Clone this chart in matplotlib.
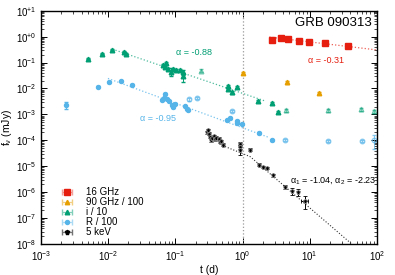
import numpy as np
import matplotlib
matplotlib.use('Agg')
import matplotlib.pyplot as plt
from matplotlib.ticker import LogLocator, NullFormatter

plt.rcParams['font.family'] = ['Liberation Sans', 'DejaVu Sans']
plt.rcParams['mathtext.default'] = 'regular'

# 16 GHz
red_t = [2.77, 3.69, 4.74, 6.84, 9.73, 16.8, 36.6]
red_f = [0.77, 0.89, 0.79, 0.70, 0.64, 0.55, 0.42]

# 90 GHz / 100
orange_t = [1.01, 4.63, 13.7]
orange_f = [0.040, 0.017, 0.0068]

# i / 10
green_t = [0.00506, 0.0080, 0.0115, 0.0172, 0.0182, 0.0653, 0.0725, 0.070, 0.0776, 0.0851,
           0.0931, 0.102, 0.117, 0.128, 0.131, 0.612, 0.60, 0.703, 0.817, 1.71, 2.71, 3.40]
green_f = [0.139, 0.216, 0.31, 0.265, 0.216, 0.084, 0.094, 0.070, 0.057, 0.045,
           0.057, 0.0515, 0.052, 0.042, 0.029, 0.0122, 0.0097, 0.0072, 0.0112, 0.00325, 0.00272, 0.00127]
green_err = [0.05, 0.05, 0.05, 0.05, 0.05, 0.08, 0.08, 0.08, 0.1, 0.35,
             0.1, 0.1, 0.1, 0.2, 0.4, 0.08, 0.1, 0.12, 0.08, 0.06, 0.06, 0.1]
green2_t = [0.24, 4.42, 18.8, 57.8, 91.0]
green2_f = [0.049, 0.00143, 0.00143, 0.0016, 0.00134]

# R / 100
blue_t = [0.00233, 0.00698, 0.0103, 0.0154, 0.0229, 0.070, 0.0625, 0.068, 0.0742, 0.0811, 0.0881,
          0.092, 0.0986, 0.139, 0.150, 0.155, 0.58, 0.649, 0.817, 0.84, 0.99, 1.75, 2.77]
blue_f = [0.00222, 0.0119, 0.0175, 0.0186, 0.0139, 0.00626, 0.00367, 0.0041, 0.00377, 0.00316, 0.00222,
          0.00191, 0.00258, 0.00203, 0.00166, 0.00152, 0.000588, 0.000733, 0.000562, 0.000451, 0.000438,
          0.000191, 0.0001]
blue_err = [0.3] + [0.06] * 22
blue2_t = [0.161, 0.212, 0.688, 4.32, 18.8, 59.2, 91.0]
blue2_f = [0.00377, 0.00439, 0.00134, 0.0001, 9.2e-5, 9.2e-5, 1.0e-4]
blue2_err = [0.1, 0.1, 0.1, 0.1, 0.1, 0.1, 0.55]

# 5 keV
black_t = [0.30, 0.309, 0.316, 0.327, 0.334, 0.35, 0.379, 0.386, 0.40, 0.445, 0.46, 0.48, 0.516,
           0.914, 0.914, 0.93, 1.29, 1.75, 2.03, 2.3, 2.86, 4.28, 5.38, 6.75, 8.49]
black_f = [2.0e-4, 2.42e-4, 1.81e-4, 1.34e-4, 1.0e-4, 1.25e-4, 1.47e-4, 1.1e-4, 1.25e-4, 1.16e-4,
           8.6e-5, 9.5e-5, 6.8e-5, 7.5e-5, 5.5e-5, 4.1e-5, 4.4e-5, 1.16e-5, 9.4e-6, 8.6e-6, 4.5e-6,
           1.6e-6, 1.12e-6, 1.03e-6, 4.6e-7]
black_err = [0.12] * 13 + [0.15, 0.15, 0.35, 0.12, 0.12, 0.12, 0.12, 0.12, 0.15, 0.3, 0.3, 0.5]
black_xerr = [0] * 24 + [0.6]

# power-law fits: (amplitude at t=1, index, t start, t end)
red_fit = (1.28, -0.31, 2.5, 100.0)
green_fit = (0.00649, -0.88, 0.0115, 2.2)
blue_fit = (0.000304, -0.95, 0.0099, 2.5)
black_fit = (4.2e-5, -1.04, -2.23, 1.3, 0.5, 42.0)  # amp of 2nd seg, a1, a2, t_break, start, end

c_red = '#e51e10'
c_orange = '#e69f00'
c_green = '#009e73'
c_blue = '#56b4e9'
c_black = 'black'

fig = plt.figure(figsize=(3.95, 2.75), dpi=100)
ax = fig.add_axes([0.104, 0.113, 0.85, 0.848])

# fits
def pl(fit):
    a, idx, t0, t1 = fit
    t = np.logspace(np.log10(t0), np.log10(t1), 100)
    return t, a * t ** idx

t, f = pl(red_fit)
ax.plot(t, f, ':', color=c_red, lw=0.9, alpha=0.7)
t, f = pl(green_fit)
ax.plot(t, f, ':', color=c_green, lw=0.9, alpha=0.7)
t, f = pl(blue_fit)
ax.plot(t, f, ':', color=c_blue, lw=0.9, alpha=0.8)
a2, i1, i2, tb, ts, te = black_fit
t = np.logspace(np.log10(ts), np.log10(te), 200)
fb = a2 * tb ** i2
f = np.where(t < tb, fb * (t / tb) ** i1, a2 * t ** i2)
ax.plot(t, f, ':', color='0.2', lw=0.8)

ax.axvline(1.0, color='0.6', ls=':', lw=0.9)

# data
ax.errorbar(red_t, red_f, yerr=0.04 * np.array(red_f), fmt='s', color=c_red, ms=4.0,
            elinewidth=0.7, capsize=1.5)
ax.errorbar(orange_t, orange_f, yerr=0.1 * np.array(orange_f), fmt='^', color=c_orange, ms=3.2,
            elinewidth=0.7, capsize=1.5)
ax.errorbar(green_t, green_f, yerr=np.array(green_err) * np.array(green_f), fmt='^', color=c_green,
            ms=3.3, elinewidth=0.7, capsize=1.5)
ax.errorbar(green2_t, green2_f, yerr=0.15 * np.array(green2_f), fmt='^', color=c_green, ms=3.3,
            mfc='none', alpha=0.55, elinewidth=0.7, capsize=1.5)
ax.errorbar(blue_t, blue_f, yerr=np.array(blue_err) * np.array(blue_f), fmt='o', color=c_blue,
            ms=2.9, elinewidth=0.7, capsize=1.5)
ax.errorbar(blue2_t, blue2_f, yerr=np.array(blue2_err) * np.array(blue2_f), fmt='o', color=c_blue,
            ms=3.2, mfc='none', alpha=0.7, elinewidth=0.7, capsize=1.5)
ax.errorbar(black_t, black_f, yerr=np.array(black_err) * np.array(black_f),
            xerr=np.array(black_xerr) * np.array(black_t) * 0.2, fmt='p', color=c_black, ms=3.6,
            mec='0.55', mew=0.6, elinewidth=0.7, capsize=1.5)

# legend proxies
handles = []
for col, lcol, mk, ms in [(c_red, '#f4a09a', 's', 4.0), (c_orange, '#f2cf80', '^', 3.2),
                          (c_green, '#80cfb9', '^', 3.3), (c_blue, '#abdaf4', 'o', 2.9),
                          (c_black, '0.45', 'p', 3.6)]:
    h = ax.errorbar([np.nan], [np.nan], xerr=[1.0], fmt=mk, color=col, ecolor=lcol, ms=ms,
                    elinewidth=0.9, capsize=2)
    handles.append(h)
leg = ax.legend(handles, ['16 GHz', '90 GHz / 100', 'i / 10', 'R / 100', '5 keV'],
                loc='lower left', bbox_to_anchor=(0.02, 0.0), frameon=False, fontsize=7,
                handlelength=2.6, handletextpad=0.6, labelspacing=0.0, borderaxespad=0.3)

# annotations
ax.text(0.985, 0.948, 'GRB 090313', transform=ax.transAxes, ha='right', va='center', fontsize=9.5)
ax.text(17.5, 0.12, 'α = -0.31', color=c_red, fontsize=6.5, ha='center', va='center')
ax.text(0.102, 0.24, 'α = -0.88', color=c_green, fontsize=6.5, ha='left', va='center')
ax.text(0.0297, 0.0007, 'α = -0.95', color=c_blue, fontsize=6.5, ha='left', va='center')
ax.text(5.07, 2.9e-6, 'α$_1$ = -1.04, α$_2$ = -2.23', color='black', fontsize=6.5,
        ha='left', va='center')

ax.set_xscale('log')
ax.set_yscale('log')
ax.set_xlim(1e-3, 1e2)
ax.set_ylim(1e-8, 1e1)

xt = [1e-3, 1e-2, 1e-1, 1e0, 1e1, 1e2]
ax.set_xticks(xt)
ax.set_xticklabels(['10$^{-3}$', '10$^{-2}$', '10$^{-1}$', '10$^{0}$', '10$^{1}$', '10$^{2}$'])
yt = [10.0 ** k for k in range(-8, 2)]
ylab = ['10$^{%d}$' % k if k < 0 else '10$^{+%d}$' % k for k in range(-8, 2)]
ax.set_yticks(yt)
ax.set_yticklabels(ylab)
ax.xaxis.set_minor_locator(LogLocator(base=10, subs=np.arange(2, 10), numticks=20))
ax.yaxis.set_minor_locator(LogLocator(base=10, subs=np.arange(2, 10), numticks=20))
ax.xaxis.set_minor_formatter(NullFormatter())
ax.yaxis.set_minor_formatter(NullFormatter())
ax.tick_params(which='both', direction='in', top=True, right=True, labelsize=7)
ax.tick_params(which='major', length=4, width=0.7)
ax.tick_params(which='minor', length=2, width=0.5)
for s in ax.spines.values():
    s.set_linewidth(1.0)

ax.set_xlabel('t (d)', fontsize=7.5, labelpad=2)
ax.set_ylabel('f$_\\nu$ (mJy)', fontsize=7.5, labelpad=1)

fig.savefig('out.png', dpi=100)
